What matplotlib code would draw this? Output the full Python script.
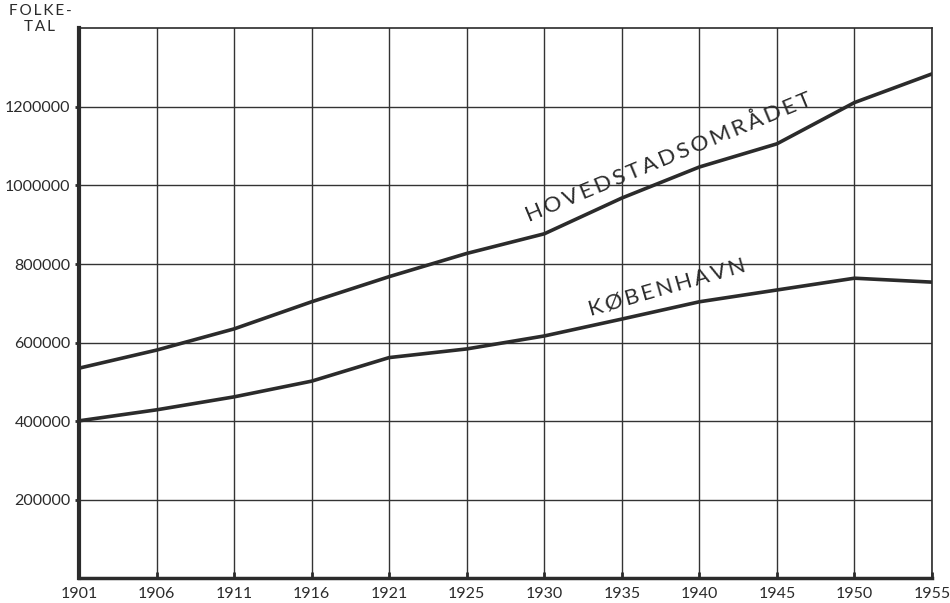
import matplotlib
matplotlib.use("Agg")
import matplotlib.pyplot as plt

# Folketal, København og hovedstadsområdet 1901-1955
years = ["1901", "1906", "1911", "1916", "1921", "1925",
         "1930", "1935", "1940", "1945", "1950", "1955"]
hovedstad = [535000, 581000, 635000, 704000, 768000, 827000,
             877000, 968000, 1047000, 1106000, 1211000, 1284000]
koebenhavn = [401000, 429000, 462000, 502000, 562000, 584000,
              617000, 660000, 704000, 734000, 764000, 754000]
y_ticks = [200000, 400000, 600000, 800000, 1000000, 1200000]

INK = "#2b2b2b"
FONT = ["Lato", "DejaVu Sans"]
THIN = "\u2009"

def spaced(s):
    # letter spacing like the printed original
    return THIN.join(s)

x = list(range(len(years)))

fig = plt.figure(figsize=(9.5, 6.03), dpi=100)
ax = fig.add_axes([79/950, 1-578.4/603, (932-79)/950, (578.4-28.3)/603])

ax.plot(x, hovedstad, color=INK, lw=2.6, solid_capstyle="round", zorder=3)
ax.plot(x, koebenhavn, color=INK, lw=2.6, solid_capstyle="round", zorder=3)

ax.set_xlim(0, len(years)-1)
ax.set_ylim(0, 1400000)
ax.set_xticks(x)
ax.set_xticklabels(years)
ax.set_yticks(y_ticks)
ax.set_yticklabels([str(v) for v in y_ticks])
ax.grid(True, color="#333333", lw=1.0)
ax.set_axisbelow(True)

for side in ["top", "right"]:
    ax.spines[side].set_color(INK)
    ax.spines[side].set_linewidth(1.2)
ax.spines["left"].set_color(INK)
ax.spines["left"].set_linewidth(3.0)
ax.spines["bottom"].set_color(INK)
ax.spines["bottom"].set_linewidth(2.5)

ax.tick_params(axis="x", direction="in", length=4, width=2, color=INK,
               pad=6, labelsize=11.5, labelcolor=INK)
ax.tick_params(axis="y", direction="out", length=3, width=2, color=INK,
               pad=3, labelsize=11.5, labelcolor=INK)
for lab in ax.get_xticklabels() + ax.get_yticklabels():
    lab.set_family(FONT)

# labels along the curves
ax.text(7.6, 1072000, spaced("HOVEDSTADSOMRÅDET"), rotation=22.5,
        rotation_mode="anchor", ha="center", va="center",
        fontsize=16.2, family=FONT, color=INK, zorder=4)
ax.text(7.58, 739000, spaced("KØBENHAVN"), rotation=16,
        rotation_mode="anchor", ha="center", va="center",
        fontsize=16, family=FONT, color=INK, zorder=4)

fig.text(40/950, 1-4/603, spaced("FOLKE-") + "\n" + spaced("TAL"),
         ha="center", va="top", fontsize=11, family=FONT, color=INK,
         linespacing=1.15)

fig.savefig("out.png", dpi=100)
